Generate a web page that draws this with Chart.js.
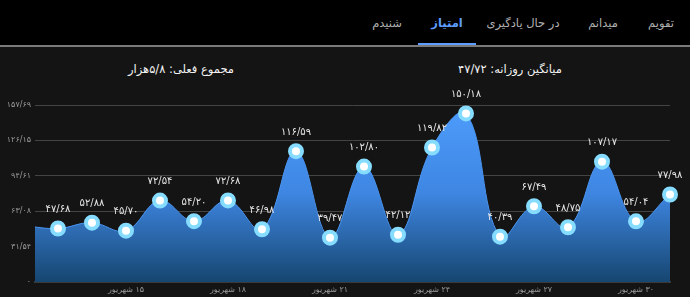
<!DOCTYPE html>
<html lang="fa">
<head>
<meta charset="utf-8">
<script src="https://cdn.jsdelivr.net/npm/chart.js@4.4.1/dist/chart.umd.min.js"></script>
<style>
  html, body { margin: 0; padding: 0; }
  body { width: 690px; height: 297px; background: #141414; overflow: hidden; position: relative; font-family: "DejaVu Sans", sans-serif; }
  #tabs { position: absolute; left: 0; top: 0; width: 690px; height: 45px; background: #000; border-bottom: 2px solid #7a7a7a; }
  .tab { position: absolute; top: 16px; transform: translateX(-50%); color: #b0b0b0; font-size: 11.5px; white-space: nowrap; direction: rtl; }
  .tab.active { color: #5d9dff; font-weight: bold; }
  #underline { position: absolute; left: 418px; width: 58px; top: 43px; height: 2px; background: #5d9dff; }
  .title { position: absolute; top: 62px; transform: translateX(-50%); color: #f2f2f2; font-size: 11.5px; white-space: nowrap; direction: rtl; }
  #chartBox { position: absolute; left: 0; top: 0; width: 690px; height: 297px; }
  #scoreChart { direction: rtl; }
</style>
</head>
<body>
<div id="tabs"></div>
<div id="titles"></div>
<div id="chartBox"><canvas id="scoreChart"></canvas></div>
<script>
const tabNames = ['تقویم', 'میدانم', 'در حال یادگیری', 'امتیاز', 'شنیدم'];
const activeTab = 'امتیاز';
const dailyAverage = 'میانگین روزانه: ۴۷/۷۲';
const currentTotal = 'مجموع فعلی: ۵/۸هزار';

// days 12..31 Shahrivar, first one is scrolled off the left edge
const dayLabels = ['۱۲ شهریور', '۱۳ شهریور', '۱۴ شهریور', '۱۵ شهریور', '۱۶ شهریور', '۱۷ شهریور', '۱۸ شهریور',
  '۱۹ شهریور', '۲۰ شهریور', '۲۱ شهریور', '۲۲ شهریور', '۲۳ شهریور', '۲۴ شهریور', '۲۵ شهریور', '۲۶ شهریور',
  '۲۷ شهریور', '۲۸ شهریور', '۲۹ شهریور', '۳۰ شهریور', '۳۱ شهریور'];
const scores = [50.1, 47.68, 52.88, 45.70, 72.54, 54.20, 72.68, 46.98, 116.59, 39.47, 102.80, 42.12, 119.82,
  150.18, 40.39, 67.49, 48.75, 107.17, 54.04, 77.98];
const labelledDays = [3, 6, 9, 12, 15, 18];
const yAxisMax = 157.69;
const visibleStart = 0.324;

const faDigits = '۰۱۲۳۴۵۶۷۸۹';
function toFa(str) {
    return String(str).replace(/[0-9]/g, d => faDigits[d]).replace(/\./g, '/');
}

// header
const tabX = [661, 603, 523, 447, 387];
const tabsEl = document.getElementById('tabs');
tabNames.forEach((name, i) => {
    const el = document.createElement('div');
    el.className = 'tab' + (name === activeTab ? ' active' : '');
    el.style.left = tabX[i] + 'px';
    el.textContent = name;
    tabsEl.appendChild(el);
});
const ul = document.createElement('div');
ul.id = 'underline';
tabsEl.appendChild(ul);

const titlesEl = document.getElementById('titles');
[[dailyAverage, 510], [currentTotal, 181]].forEach(([txt, x]) => {
    const el = document.createElement('div');
    el.className = 'title';
    el.style.left = x + 'px';
    el.textContent = txt;
    titlesEl.appendChild(el);
});

const pointLabels = {
    id: 'pointLabels',
    afterDatasetsDraw(chart) {
        const ctx = chart.ctx;
        const area = chart.chartArea;
        const meta = chart.getDatasetMeta(0);
        ctx.save();
        ctx.font = '10px "DejaVu Sans"';
        ctx.fillStyle = '#e6e6e6';
        ctx.textAlign = 'center';
        ctx.textBaseline = 'middle';
        meta.data.forEach((pt, i) => {
            if (pt.x < area.left) return;
            ctx.fillText(toFa(scores[i].toFixed(2)), pt.x, pt.y - 19);
        });
        ctx.restore();
    }
};

const ctx = document.getElementById('scoreChart').getContext('2d');
new Chart(ctx, {
    type: 'line',
    data: {
        datasets: [{
            data: scores.map((v, i) => ({ x: i, y: v })),
            fill: 'origin',
            tension: 0.4,
            borderColor: '#4a95f2',
            borderWidth: 1,
            backgroundColor: (c) => {
                const a = c.chart.chartArea;
                if (!a) return '#3f86e0';
                const g = c.chart.ctx.createLinearGradient(0, a.top, 0, a.bottom);
                g.addColorStop(0, '#4d9cfc');
                g.addColorStop(0.5, '#3e86e2');
                g.addColorStop(1, '#164670');
                return g;
            },
            pointRadius: 6,
            pointHoverRadius: 6,
            pointBorderWidth: 4,
            pointBackgroundColor: '#ffffff',
            pointBorderColor: '#86dcff',
            clip: { left: 0, top: false, right: false, bottom: 0 }
        }]
    },
    options: {
        responsive: true,
        maintainAspectRatio: false,
        animation: false,
        layout: { padding: { top: 105, right: 20, left: 0, bottom: 0 } },
        plugins: {
            legend: { display: false },
            tooltip: { enabled: false }
        },
        scales: {
            x: {
                type: 'linear',
                min: visibleStart,
                max: scores.length - 1,
                grid: { display: false, drawTicks: false },
                border: { display: true, color: '#3a3a3a', width: 2 },
                afterBuildTicks: (scale) => { scale.ticks = labelledDays.map(v => ({ value: v })); },
                afterFit: (scale) => { scale.height = 15; },
                ticks: {
                    padding: 3,
                    color: '#9a9a9a',
                    font: { family: 'DejaVu Sans', size: 8 },
                    autoSkip: false,
                    maxRotation: 0,
                    callback: (v) => dayLabels[v]
                }
            },
            y: {
                min: 0,
                max: yAxisMax,
                grid: { color: '#444444', lineWidth: 1, drawTicks: false },
                border: { display: false },
                afterBuildTicks: (scale) => { scale.ticks = [0, 1, 2, 3, 4, 5].map(k => ({ value: yAxisMax * k / 5 })); },
                afterFit: (scale) => { scale.width = 35; },
                ticks: {
                    padding: 4,
                    color: '#9a9a9a',
                    font: { family: 'DejaVu Sans', size: 8 },
                    callback: (v) => v === 0 ? '۰' : toFa(v.toFixed(2))
                }
            }
        }
    },
    plugins: [pointLabels]
});
</script>
</body>
</html>
